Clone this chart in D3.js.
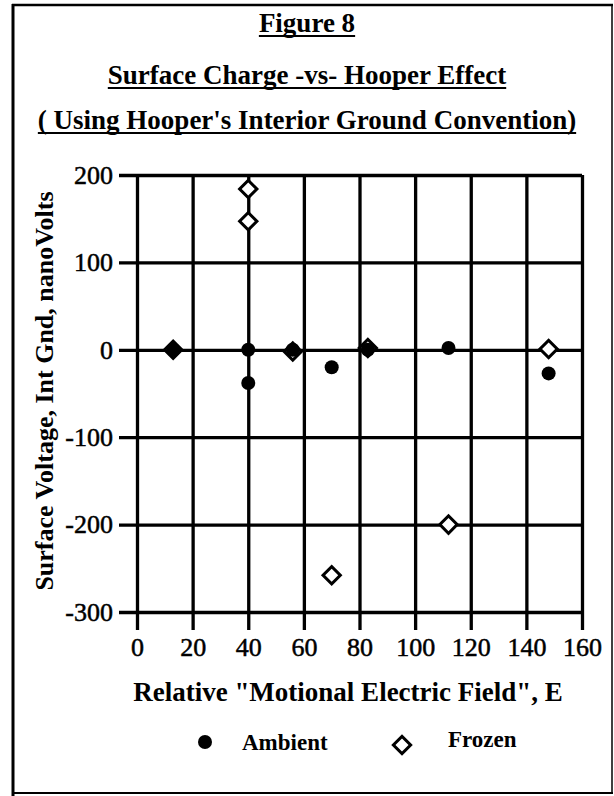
<!DOCTYPE html>
<html>
<head>
<meta charset="UTF-8">
<title>Figure 8</title>
<script src="https://cdn.jsdelivr.net/npm/d3@7/dist/d3.min.js"></script>
<style>
body { margin: 0; background: #fff; }
svg { display: block; }
text { font-family: "Liberation Serif", "DejaVu Serif", serif; fill: #000; }
.grid .domain { display: none; }
.grid line { stroke: #000; stroke-width: 3.3; }
.grid text { font-size: 26px; stroke: #000; stroke-width: 0.5; }
</style>
</head>
<body>
<script>
// values
var efield  = [13, 40, 40, 56, 70, 83, 112, 148];
var ambient = [0, 0, -38, 0, -20, 0, 2, -27];
var frozen  = [0, 184, 147, -2, -258, 2, -200, 1];

var xTicks = [0, 20, 40, 60, 80, 100, 120, 140, 160];
var yTicks = [-300, -200, -100, 0, 100, 200];

var titles = ["Figure 8", "Surface Charge -vs- Hooper Effect", "( Using Hooper's Interior Ground Convention)"];
var xTitle = 'Relative "Motional Electric Field", E';
var yTitle = "Surface Voltage, Int Gnd, nanoVolts";
var legendNames = ["Ambient", "Frozen"];

var W = 614, H = 796;
var svg = d3.select("body").append("svg").attr("width", W).attr("height", H);

// frame
svg.append("line").attr("x1", 13).attr("x2", 13).attr("y1", 4).attr("y2", H).attr("stroke", "#000").attr("stroke-width", 3);
svg.append("line").attr("x1", 12).attr("x2", 613).attr("y1", 5).attr("y2", 5).attr("stroke", "#000").attr("stroke-width", 2.5);
svg.append("line").attr("x1", 612).attr("x2", 612).attr("y1", 5).attr("y2", 793).attr("stroke", "#000").attr("stroke-width", 1.5);
svg.append("line").attr("x1", 12).attr("x2", 613).attr("y1", 793).attr("y2", 793).attr("stroke", "#000").attr("stroke-width", 2);

// titles, underlined
var titleY = [32, 84, 129];
titles.forEach(function(t, i) {
  var tx = svg.append("text")
      .attr("x", 307).attr("y", titleY[i])
      .attr("text-anchor", "middle")
      .style("font-size", "27px").style("font-weight", "bold")
      .text(t);
  var w = tx.node().getComputedTextLength();
  svg.append("line")
      .attr("x1", 307 - w / 2).attr("x2", 307 + w / 2)
      .attr("y1", titleY[i] + 4).attr("y2", titleY[i] + 4)
      .attr("stroke", "#000").attr("stroke-width", 2.2);
});

var x = d3.scaleLinear().domain([0, 160]).range([137, 582]);
var y = d3.scaleLinear().domain([-300, 200]).range([612, 175]);

// plain hyphen for negatives, like the original
var fmt = function(d) { return String(d); };

// horizontal grid lines with outward ticks on the left
svg.append("g").attr("class", "grid")
    .attr("transform", "translate(582,0)")
    .call(d3.axisLeft(y).tickValues(yTicks).tickSize(582 - 119).tickPadding(6).tickFormat(fmt));

// vertical grid lines with ticks below
svg.append("g").attr("class", "grid")
    .attr("transform", "translate(0,175)")
    .call(d3.axisBottom(x).tickValues(xTicks).tickSize(630 - 175).tickPadding(8).tickFormat(fmt));

// axis titles
svg.append("text")
    .attr("x", 348).attr("y", 701)
    .attr("text-anchor", "middle")
    .style("font-size", "27px").style("font-weight", "bold")
    .text(xTitle);

svg.append("text")
    .attr("transform", "translate(53,391) rotate(-90)")
    .attr("text-anchor", "middle")
    .style("font-size", "26px").style("font-weight", "bold")
    .text(yTitle);

// markers
var circle = d3.symbol().type(d3.symbolCircle).size(Math.PI * 7 * 7);
var diamond = d3.symbol().type(d3.symbolSquare).size(150);

svg.append("g").selectAll("path")
    .data(efield.map(function(e, i) { return [e, frozen[i]]; }))
  .enter().append("path")
    .attr("d", diamond)
    .attr("transform", function(d) { return "translate(" + x(d[0]) + "," + y(d[1]) + ") rotate(45)"; })
    .attr("fill", "#fff").attr("stroke", "#000").attr("stroke-width", 3);

svg.append("g").selectAll("path")
    .data(efield.map(function(e, i) { return [e, ambient[i]]; }))
  .enter().append("path")
    .attr("d", circle)
    .attr("transform", function(d) { return "translate(" + x(d[0]) + "," + y(d[1]) + ")"; })
    .attr("fill", "#000");

// legend
var leg = svg.append("g");
leg.append("path").attr("d", circle).attr("transform", "translate(205,742)").attr("fill", "#000");
leg.append("text").attr("x", 242).attr("y", 750).style("font-size", "23px").style("font-weight", "bold").text(legendNames[0]);
leg.append("path").attr("d", diamond).attr("transform", "translate(402,745) rotate(45)")
    .attr("fill", "#fff").attr("stroke", "#000").attr("stroke-width", 3);
leg.append("text").attr("x", 448).attr("y", 747).style("font-size", "23px").style("font-weight", "bold").text(legendNames[1]);
</script>
</body>
</html>
